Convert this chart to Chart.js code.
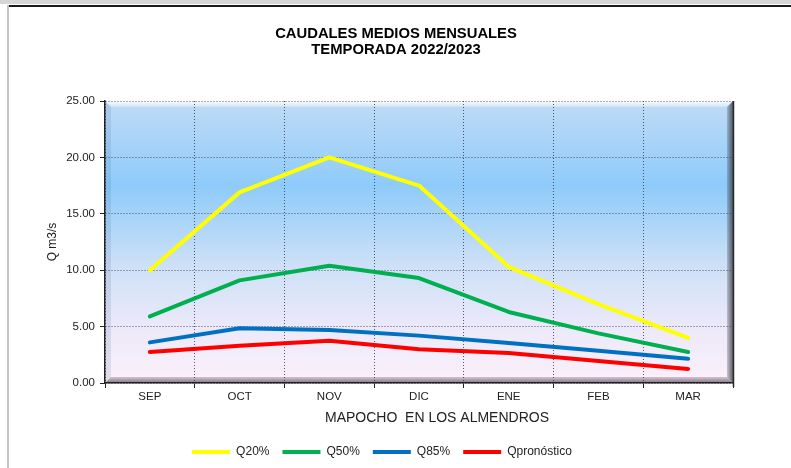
<!DOCTYPE html>
<html>
<head>
<meta charset="utf-8">
<script src="https://cdn.jsdelivr.net/npm/chart.js@4.4.0/dist/chart.umd.min.js"></script>
<style>
  body { margin: 0; background: #fff; }
  #wrap { position: relative; width: 791px; height: 468px; overflow: hidden; background: #fff; }
  #topStrip { position: absolute; left: 0; top: 0; width: 791px; height: 4px; background: #d6d6d6; }
  #topLine { position: absolute; left: 7px; top: 5px; width: 784px; height: 2px; background: #1a1a1a; }
  #leftLine { position: absolute; left: 7px; top: 5px; width: 2px; height: 463px; background: #c4c4c4; }
  canvas { position: absolute; left: 0; top: 0; }
</style>
</head>
<body>
<div id="wrap">
  <div id="topStrip"></div>
  <div id="topLine"></div>
  <div id="leftLine"></div>
  <canvas id="myChart" width="791" height="468"></canvas>
</div>
<script>
const months = ['SEP', 'OCT', 'NOV', 'DIC', 'ENE', 'FEB', 'MAR'];
const q20 = [10.0, 16.9, 20.0, 17.5, 10.3, 7.0, 4.0];
const q50 = [5.9, 9.1, 10.4, 9.3, 6.3, 4.4, 2.75];
const q85 = [3.6, 4.85, 4.7, 4.2, 3.55, 2.85, 2.15];
const qpron = [2.75, 3.3, 3.75, 3.0, 2.65, 1.95, 1.25];

const seriesNames = ['Q20%', 'Q50%', 'Q85%', 'Qpronóstico'];
const seriesColors = ['#FFFF00', '#00B050', '#0070C0', '#FF0000'];

const chartTitle = ['CAUDALES MEDIOS MENSUALES', 'TEMPORADA 2022/2023'];
const xTitle = 'MAPOCHO  EN LOS ALMENDROS';
const yTitle = 'Q m3/s';

const FONT = 'Arial, "Liberation Sans", sans-serif';

// plot area background with the bevelled frame
const bevelBg = {
    id: 'bevelBg',
    beforeDraw(chart) {
        const {ctx, chartArea: a} = chart;
        const L = a.left, R = a.right, T = a.top, B = a.bottom, b = 6;
        ctx.save();
        const g = ctx.createLinearGradient(0, T, 0, B);
        g.addColorStop(0, '#c0dbf6');
        g.addColorStop(0.3, '#8ecbfa');
        g.addColorStop(0.58, '#cde0f7');
        g.addColorStop(0.8, '#ebe9fa');
        g.addColorStop(1, '#fcf0fa');
        ctx.fillStyle = g;
        ctx.fillRect(L, T, R - L, B - T);

        // top highlight
        let gt = ctx.createLinearGradient(0, T, 0, T + b);
        gt.addColorStop(0, 'rgba(255,255,255,0.95)');
        gt.addColorStop(1, 'rgba(255,255,255,0.25)');
        ctx.fillStyle = gt;
        ctx.beginPath();
        ctx.moveTo(L, T); ctx.lineTo(R, T); ctx.lineTo(R - b, T + b); ctx.lineTo(L + b, T + b);
        ctx.closePath(); ctx.fill();

        // left shade
        ctx.fillStyle = 'rgba(40,80,140,0.12)';
        ctx.beginPath();
        ctx.moveTo(L, T); ctx.lineTo(L + b, T + b); ctx.lineTo(L + b, B - b); ctx.lineTo(L, B);
        ctx.closePath(); ctx.fill();

        // right shadow
        let gr = ctx.createLinearGradient(R - b, 0, R, 0);
        gr.addColorStop(0, 'rgba(60,60,70,0.25)');
        gr.addColorStop(1, 'rgba(40,40,50,0.75)');
        ctx.fillStyle = gr;
        ctx.beginPath();
        ctx.moveTo(R, T); ctx.lineTo(R, B); ctx.lineTo(R - b, B - b); ctx.lineTo(R - b, T + b);
        ctx.closePath(); ctx.fill();

        // bottom shadow
        let gb = ctx.createLinearGradient(0, B - b, 0, B);
        gb.addColorStop(0, 'rgba(90,70,90,0.25)');
        gb.addColorStop(1, 'rgba(80,60,80,0.7)');
        ctx.fillStyle = gb;
        ctx.beginPath();
        ctx.moveTo(L, B); ctx.lineTo(R, B); ctx.lineTo(R - b, B - b); ctx.lineTo(L + b, B - b);
        ctx.closePath(); ctx.fill();
        ctx.restore();
    },
    afterDraw(chart) {
        const {ctx, chartArea: a} = chart;
        ctx.save();
        ctx.strokeStyle = '#2a2a2a';
        ctx.lineWidth = 1.5;
        ctx.beginPath();
        ctx.moveTo(a.right + 0.5, a.top);
        ctx.lineTo(a.right + 0.5, a.bottom + 4);
        ctx.stroke();

        // chart title and x axis title, placed like the original sheet
        ctx.textAlign = 'center';
        ctx.textBaseline = 'middle';
        ctx.fillStyle = '#000';
        ctx.font = 'bold 14.8px ' + FONT;
        ctx.fillText(chartTitle[0], 396, 34);
        ctx.fillText(chartTitle[1], 396, 50);
        ctx.fillStyle = '#222';
        ctx.font = '14px ' + FONT;
        ctx.fillText(xTitle, 437, 418);
        ctx.restore();
    }
};

const allSeries = [q20, q50, q85, qpron];

const data = {
    labels: months,
    datasets: allSeries.map((vals, i) => ({
        label: seriesNames[i],
        data: vals,
        borderColor: seriesColors[i],
        backgroundColor: seriesColors[i],
        borderWidth: 4,
        borderCapStyle: 'round',
        borderJoinStyle: 'round',
        pointRadius: 0,
        pointHoverRadius: 0,
        tension: 0
    }))
};

const tickFont = {family: FONT, size: 11.5};
const gridColor = 'rgba(50,50,70,0.8)';

const config = {
    type: 'line',
    data: data,
    plugins: [bevelBg],
    options: {
        responsive: false,
        animation: false,
        layout: {padding: {left: 31, right: 58, top: 101, bottom: 0}},
        plugins: {
            title: {display: false},
            legend: {
                position: 'bottom',
                labels: {
                    usePointStyle: true,
                    pointStyle: 'line',
                    pointStyleWidth: 38,
                    color: '#222',
                    padding: 13,
                    font: {family: FONT, size: 12}
                }
            },
            tooltip: {enabled: false}
        },
        scales: {
            x: {
                offset: true,
                grid: {
                    offset: true,
                    color: gridColor,
                    tickColor: '#222',
                    tickLength: 5,
                    tickBorderDash: []
                },
                border: {display: true, color: '#222', width: 1.5, dash: [1, 2]},
                ticks: {color: '#222', font: tickFont, padding: 2},
                afterFit(scale) { scale.height = 50; }
            },
            y: {
                min: 0,
                max: 25,
                grid: {
                    color: gridColor,
                    tickColor: '#222',
                    tickLength: 5,
                    tickBorderDash: []
                },
                border: {display: true, color: '#222', width: 1.5, dash: [1, 2]},
                ticks: {
                    stepSize: 5,
                    color: '#222',
                    font: tickFont,
                    padding: 5,
                    callback: v => Number(v).toFixed(2)
                },
                title: {
                    display: true,
                    text: yTitle,
                    color: '#222',
                    font: {family: FONT, size: 12},
                    padding: {top: 14, bottom: 0}
                },
                afterFit(scale) { scale.width = 74; }
            }
        }
    }
};

Chart.defaults.color = '#222';

const ctx = document.getElementById('myChart');
const chart = new Chart(ctx, config);
</script>
</body>
</html>
